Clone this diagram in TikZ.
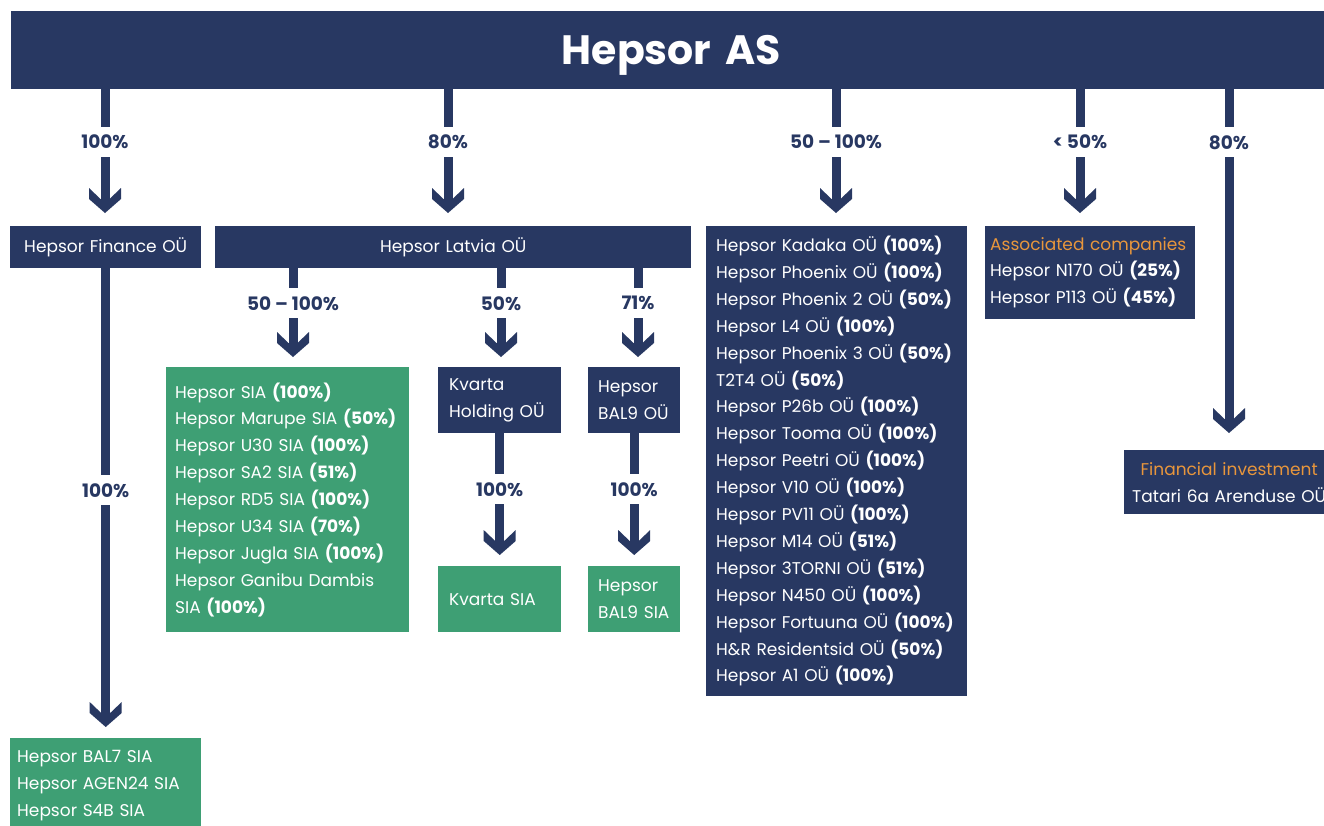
\documentclass[tikz,border=0pt]{standalone}
\usepackage{fontspec}
\setmainfont{Poppins}
\usetikzlibrary{calc}
\definecolor{hnavy}{RGB}{40,56,98}
\definecolor{hgreen}{RGB}{62,159,116}
\definecolor{horange}{RGB}{232,150,60}
\newcommand{\share}[1]{\textbf{(#1\%)}}

\begin{document}
\begin{tikzpicture}[x=1pt,y=-1pt]
  \tikzset{
    box/.style={fill=hnavy, text=white, anchor=north west, inner ysep=0pt,
      font=\fontsize{17}{26.9}\selectfont},
    greenbox/.style={box, fill=hgreen},
    pct/.style={fill=white, text=hnavy, inner xsep=2pt, minimum height=30pt,
      font=\bfseries\fontsize{18.5}{20}\selectfont},
    shaft/.style={draw=hnavy, line width=9pt, shorten >=13pt},
    chev/.pic={\fill[hnavy, shorten >=0pt] (0,0) -- (-16,-14) -- (-16,-25) -- (-4.5,-14)
      -- (4.5,-14) -- (16,-25) -- (16,-14) -- cycle;}
  }
  \path[use as bounding box] (0,0) rectangle (1324,825);
  \clip (0,0) rectangle (1324,825);

  \node[box, align=center, inner xsep=0pt, text width=1320pt, minimum height=78pt,
    text height=29pt, text depth=0pt,
    font=\bfseries\fontsize{41}{41}\selectfont] (hepsor) at (11,11) {Hepsor AS};

  \coordinate (c1) at (105,0);
  \coordinate (c2) at (448,0);
  \coordinate (c3) at (836,0);
  \coordinate (c4) at (1080,0);
  \coordinate (c5) at (1229,0);
  \coordinate (c6) at (293,0);
  \coordinate (c7) at (501,0);
  \coordinate (c8) at (638,0);

  \node[box, align=center, inner xsep=0pt, text width=191pt, minimum height=42pt] (fin) at (10,226) {Hepsor Finance OÜ};
  \node[box, align=center, inner xsep=0pt, text width=476pt, minimum height=42pt] (lat) at (215,226) {Hepsor Latvia OÜ};
  \node[box, align=left, inner xsep=10pt, text width=241pt, minimum height=470pt] (est) at (706,226) {%
    Hepsor Kadaka OÜ \share{100}\\
    Hepsor Phoenix OÜ \share{100}\\
    Hepsor Phoenix 2 OÜ \share{50}\\
    Hepsor L4 OÜ \share{100}\\
    Hepsor Phoenix 3 OÜ \share{50}\\
    T2T4 OÜ \share{50}\\
    Hepsor P26b OÜ \share{100}\\
    Hepsor Tooma OÜ \share{100}\\
    Hepsor Peetri OÜ \share{100}\\
    Hepsor V10 OÜ \share{100}\\
    Hepsor PV11 OÜ \share{100}\\
    Hepsor M14 OÜ \share{51}\\
    Hepsor 3TORNI OÜ \share{51}\\
    Hepsor N450 OÜ \share{100}\\
    Hepsor Fortuuna OÜ \share{100}\\
    H\&R Residentsid OÜ \share{50}\\
    Hepsor A1 OÜ \share{100}};
  \node[box, align=left, inner xsep=5pt, text width=200pt, minimum height=93pt] (assoc) at (985,226) {%
    \mbox{\color{horange}Associated companies}\\
    Hepsor N170 OÜ \share{25}\\
    Hepsor P113 OÜ \share{45}};
  \node[box, align=center, inner xsep=0pt, text width=210pt, minimum height=64pt] (finv) at (1124,450) {%
    {\color{horange}Financial investment}\\
    Tatari 6a Arenduse OÜ};

  \node[greenbox, align=left, inner xsep=9pt, text width=225pt, minimum height=265pt] (latsia) at (166,367) {%
    Hepsor SIA \share{100}\\
    Hepsor Marupe SIA \share{50}\\
    Hepsor U30 SIA \share{100}\\
    Hepsor SA2 SIA \share{51}\\
    Hepsor RD5 SIA \share{100}\\
    Hepsor U34 SIA \share{70}\\
    Hepsor Jugla SIA \share{100}\\
    Hepsor Ganibu Dambis\\
    SIA \share{100}};
  \node[box, align=left, inner xsep=11pt, text width=101pt, minimum height=66pt] (kvh) at (438,367) {Kvarta\\Holding OÜ};
  \node[box, align=left, inner xsep=10pt, text width=72pt, minimum height=66pt] (balou) at (588,367) {Hepsor\\BAL9 OÜ};
  \node[greenbox, align=left, inner xsep=11pt, text width=101pt, minimum height=66pt] (kvsia) at (438,566) {Kvarta SIA};
  \node[greenbox, align=left, inner xsep=10pt, text width=72pt, minimum height=66pt] (balsia) at (588,566) {Hepsor\\BAL9 SIA};
  \node[greenbox, align=left, inner xsep=7pt, text width=177pt, minimum height=95pt] (finsia) at (10,738) {%
    Hepsor BAL7 SIA\\
    Hepsor AGEN24 SIA\\
    Hepsor S4B SIA};

  \draw[shaft] (hepsor.south -| c1) -- node[pct, pos=.427] {100\%} ($(fin.north -| c1)+(0,-13)$) pic {chev};
  \draw[shaft] (hepsor.south -| c2) -- node[pct, pos=.427] {80\%} ($(lat.north -| c2)+(0,-13)$) pic {chev};
  \draw[shaft] (hepsor.south -| c3) -- node[pct, pos=.427] {50 – 100\%} ($(est.north -| c3)+(0,-13)$) pic {chev};
  \draw[shaft] (hepsor.south -| c4) -- node[pct, pos=.427] {< 50\%} ($(assoc.north -| c4)+(0,-13)$) pic {chev};
  \draw[shaft] (hepsor.south -| c5) -- node[pct, pos=.154] {80\%} ($(finv.north -| c5)+(0,-17)$) pic {chev};

  \draw[shaft] (fin.south) -- node[pct, pos=.484] {100\%} ($(finsia.north -| fin.south)+(0,-11)$) pic {chev};
  \draw[shaft] (lat.south -| c6) -- node[pct, pos=.393] {50 – 100\%} ($(latsia.north -| c6)+(0,-10)$) pic {chev};
  \draw[shaft] (lat.south -| c7) -- node[pct, pos=.393] {50\%} ($(kvh.north -| c7)+(0,-10)$) pic {chev};
  \draw[shaft] (lat.south -| c8) -- node[pct, pos=.393] {71\%} ($(balou.north -| c8)+(0,-10)$) pic {chev};
  \draw[shaft] (kvh.south) -- node[pct, pos=.459] {100\%} ($(kvsia.north)+(0,-11)$) pic {chev};
  \draw[shaft] (balou.south) -- node[pct, pos=.459] {100\%} ($(balsia.north)+(0,-11)$) pic {chev};
\end{tikzpicture}
\end{document}
